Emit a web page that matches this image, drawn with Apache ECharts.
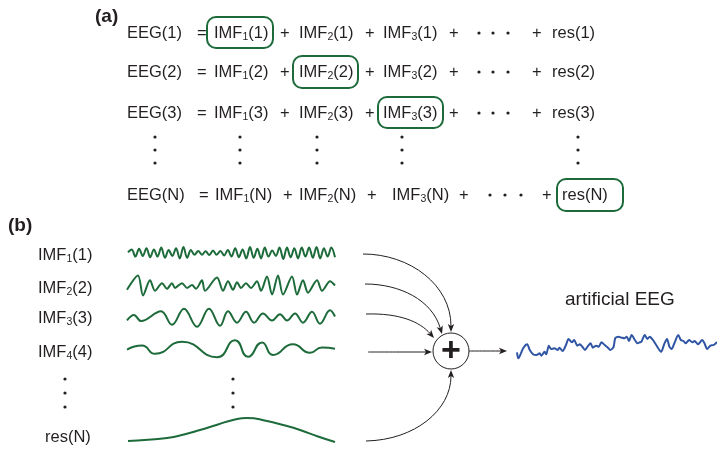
<!DOCTYPE html>
<html><head><meta charset="utf-8">
<script src="https://cdn.jsdelivr.net/npm/echarts@6/dist/echarts.min.js"></script>
<style>html,body{margin:0;padding:0;background:#fff}#c{width:717px;height:449px}</style>
</head><body><div id="c"></div>
<script>
// ---------- data ----------
const rowKeys = ['1', '2', '3', 'N'];            // equation rows in (a)
const bLabels = [['IMF', 1, '1'], ['IMF', 2, '2'], ['IMF', 3, '3'], ['IMF', 4, '4'], ['res', '', 'N']];
const outLabel = 'artificial EEG';

const imf1V = [0.1, 0.6,-0.6, 0.7,-0.5, 0.8,-0.7, 0.6,-0.6, 0.9,-0.8, 0.5,-0.5, 0.8,-0.9, 1.0,-0.8, 0.5,-0.3,
  0.35,-0.3, 0.3,-0.35, 0.4,-0.3, 0.35,-0.4, 0.5,-0.6, 0.8,-0.7, 0.6,-0.9, 1.0,-0.8, 0.7,-0.9, 0.9,-0.6,
  0.4,-0.5, 0.9,-1.0, 0.9,-0.7, 0.8,-0.9, 0.9,-0.6, 0.9,-0.8, 1.0,-0.9, 0.8,-0.6, 0.9,-0.7];

const imf2T = [0, 11, 16, 23, 28, 35, 40, 45, 48, 55, 60, 65, 69, 75, 78, 90, 96, 101, 106, 110, 114, 119, 124,
  130, 134, 140, 145, 151, 156, 165, 170, 176, 181, 190, 195, 203, 208];
const imf2V = [-0.45, 1.05, -1.05, 0.55, -0.55, 0.25, -0.35, 0.25, -0.25, 0.25, -0.25, 0.05, -0.35, 0.55, -0.55,
  0.85, -0.55, 0.45, -0.45, 0.35, -0.25, 0.25, -0.25, 0.45, -0.55, 0.95, -0.95, 1.05, -0.95, 0.95, -0.95,
  0.55, -0.75, 0.55, -0.55, 0.45, 0];

const imf3T = [0, 7, 14, 34, 45, 57, 70, 82, 93, 101, 110, 119, 127, 136, 145, 153, 160, 168, 176, 185, 193, 203, 208];
const imf3V = [-0.3, 0.31, -0.38, 0.72, -0.79, 1.0, -1.0, 1.0, -0.9, 0.72, -0.55, 0.66, -0.55, 0.48, -0.31,
  0.38, -0.31, 0.48, -0.55, 0.66, -0.66, 0.83, 0.14];

const imf4T = [0, 15, 28, 55, 90, 108, 121, 135, 146, 166, 183, 195, 208];
const imf4V = [-0.1, 0.37, -0.6, 0.81, -1.0, 1.0, -0.96, 0.74, -0.74, 0.52, -0.48, 0.15, 0];

const resT = [0, 20, 39, 56, 72, 90, 105, 119, 139, 155, 172, 190, 207];
const resV = [1, 2.2, 4, 7.5, 12, 17.5, 22, 24, 21, 17, 12, 5.5, 0];

const eegT = [0,1.3,6.3,10.3,13,16.3,19.7,23,24.7,28,29.7,32.3,34.7,38,41.3,43,46.3,49.7,52.3,55.7,58,61.3,63.7,
  66.3,69,72.3,74.7,77,80.3,83,85.7,89,92.3,94.7,98,99.7,103,106.3,109,111.3,113.7,116.3,119.7,122.3,124.7,
  126.3,129.7,132.3,134.7,138,141.3,146.3,149.7,152.3,154.7,157,159.7,163.7,166.3,169,171.3,174.7,178,180.3,
  183.7,188,190.3,193,196.3,199.7,203];
const eegV = [-2.3,-8.3,1.7,5.7,0,-4.3,-5,-3.3,-5.7,-1.7,-4.3,4.3,1,1.7,0,2.3,-1,5,11,7.7,10,4.3,5.7,3.3,0,4.3,
  6.7,2.3,4.3,3.3,7.7,5,2.3,0,3,11.7,13.3,12.3,11.7,13.3,9,15,10,6.7,7.7,8.3,15,11,13.3,10,5,-1.7,6.7,11,3.3,
  1,6.7,15,10,9,6.7,10,7.7,9,5.7,10,6.7,1,4.3,5,8];

// ---------- styling / layout ----------
const GREEN = '#1d6b3a', BLUE = '#2f55a4', INK = '#231f20';
const FONT = '"Liberation Sans", Arial, Helvetica, sans-serif';
const RICH = {
  m: {fontSize: 16.5, lineHeight: 20, fontFamily: FONT, fill: INK},
  s: {fontSize: 10.5, lineHeight: 10, verticalAlign: 'bottom', fontFamily: FONT, fill: INK}
};
function txt(x, y, s) {
  return {type: 'text', x: x, y: y, silent: true,
    style: {text: s, rich: RICH, fill: INK, fontFamily: FONT, fontSize: 16.5, verticalAlign: 'middle', align: 'left'}};
}
const imfT = (n, k) => `{m|IMF}{s|${n}}{m|(${k})}`;
const plain = s => `{m|${s}}`;
function dot(x, y) { return {type: 'circle', silent: true, shape: {cx: x, cy: y, r: 1.6}, style: {fill: INK}}; }
function box(x1, y1, x2, y2) {
  return {type: 'rect', silent: true, shape: {x: x1, y: y1, width: x2 - x1, height: y2 - y1, r: 9},
    style: {fill: null, stroke: GREEN, lineWidth: 2}};
}
function arrow(p0, c1, c2, p3) {
  const dx = p3[0] - c2[0], dy = p3[1] - c2[1], L = Math.hypot(dx, dy), ux = dx / L, uy = dy / L;
  const len = 8, hw = 3.2;
  const bx = p3[0] - ux * len, by = p3[1] - uy * len;
  const nx = p3[0] - ux * (len - 2), ny = p3[1] - uy * (len - 2);
  return [
    {type: 'bezierCurve', silent: true, shape: {x1: p0[0], y1: p0[1], cpx1: c1[0], cpy1: c1[1], cpx2: c2[0], cpy2: c2[1], x2: nx, y2: ny},
      style: {stroke: INK, lineWidth: 1, fill: null}},
    {type: 'polygon', silent: true, shape: {points: [[p3[0], p3[1]], [bx - uy * hw, by + ux * hw], [nx, ny], [bx + uy * hw, by - ux * hw]]},
      style: {fill: INK}}
  ];
}

const rowY = [33, 72, 113, 195];
const xStd = {eeg: 127, eq: 197, i1: 214, p1: 280, i2: 299, p2: 365, i3: 383, p3: 449, d: [479, 493, 508], p4: 532, res: 552};
const xN = {eeg: 127, eq: 199, i1: 215, p1: 283, i2: 299, p2: 367, i3: 392, p3: 459, d: [490, 505, 521], p4: 542, res: 562};
const boxes = [[207, 17, 273, 48], [293, 56, 358, 88], [378, 97, 443, 128], [557, 179, 623, 211]];

const G = [];
G.push({type: 'text', x: 95, y: 17, silent: true, style: {text: '(a)', fontFamily: FONT, fontSize: 19, fontWeight: 'bold', fill: INK, verticalAlign: 'middle'}});
G.push({type: 'text', x: 8, y: 226, silent: true, style: {text: '(b)', fontFamily: FONT, fontSize: 19, fontWeight: 'bold', fill: INK, verticalAlign: 'middle'}});

rowKeys.forEach((k, i) => {
  const X = k === 'N' ? xN : xStd, y = rowY[i];
  G.push(txt(X.eeg, y, plain(`EEG(${k})`)));
  G.push(txt(X.eq, y, plain('=')));
  G.push(txt(X.i1, y, imfT(1, k)));
  G.push(txt(X.p1, y, plain('+')));
  G.push(txt(X.i2, y, imfT(2, k)));
  G.push(txt(X.p2, y, plain('+')));
  G.push(txt(X.i3, y, imfT(3, k)));
  G.push(txt(X.p3, y, plain('+')));
  X.d.forEach(dx => G.push(dot(dx, y)));
  G.push(txt(X.p4, y, plain('+')));
  G.push(txt(X.res, y, plain(`res(${k})`)));
  const b = boxes[i];
  G.push(box(b[0], b[1], b[2], b[3]));
});
[155, 240, 317, 402, 578].forEach(x => [137, 150, 163].forEach(y => G.push(dot(x, y))));

// (b) labels
const bY = [255, 288, 318, 352, 437];
bLabels.forEach((l, i) => {
  const s = l[0] === 'IMF' ? imfT(l[1], l[2]) : plain(`res(${l[2]})`);
  G.push(txt(l[0] === 'IMF' ? 38 : 45, bY[i], s));
});
[65, 233].forEach(x => [379, 393, 407].forEach(y => G.push(dot(x, y))));

// arrows into summing node
G.push(...arrow([363, 254], [410, 254], [451, 285], [451, 332]));
G.push(...arrow([365, 284], [400, 284], [432, 300], [442, 334]));
G.push(...arrow([366, 314], [400, 313], [420, 322], [434, 338]));
G.push(...arrow([368, 352], [368, 352], [368, 352], [432, 352]));
G.push(...arrow([366, 441], [415, 440], [451, 410], [451, 370]));
G.push(...arrow([469, 351], [469, 351], [469, 351], [507, 351]));
G.push({type: 'circle', silent: true, shape: {cx: 451, cy: 351, r: 18}, style: {fill: '#fff', stroke: INK, lineWidth: 1}});
G.push({type: 'text', x: 451, y: 352, silent: true, style: {text: '+', fontFamily: FONT, fontSize: 34, fontWeight: 'bold', fill: INK, align: 'center', verticalAlign: 'middle'}});
G.push({type: 'text', x: 565, y: 300, silent: true, style: {text: outLabel, fontFamily: FONT, fontSize: 19, fill: INK, verticalAlign: 'middle'}});

// ---------- charts ----------
const zip = (t, v) => t.map((x, i) => [x, v[i]]);
const grids = [
  {left: 128, top: 247, width: 207, height: 12},
  {left: 127, top: 276, width: 208, height: 19},
  {left: 127, top: 308.7, width: 208, height: 18},
  {left: 127, top: 340.2, width: 208, height: 17},
  {left: 128, top: 418, width: 207, height: 24},
  {left: 517, top: 330, width: 203, height: 30}
];
const xAxes = [
  {gridIndex: 0, type: 'category', boundaryGap: false, data: imf1V.map((_, i) => i), show: false},
  {gridIndex: 1, type: 'value', min: 0, max: 208, show: false},
  {gridIndex: 2, type: 'value', min: 0, max: 208, show: false},
  {gridIndex: 3, type: 'value', min: 0, max: 208, show: false},
  {gridIndex: 4, type: 'value', min: 0, max: 207, show: false},
  {gridIndex: 5, type: 'value', min: 0, max: 203, show: false}
];
const yAxes = [
  {gridIndex: 0, min: -1, max: 1}, {gridIndex: 1, min: -1, max: 1}, {gridIndex: 2, min: -1, max: 1},
  {gridIndex: 3, min: -1, max: 1}, {gridIndex: 4, min: 0, max: 24}, {gridIndex: 5, min: -10, max: 20}
].map(a => Object.assign({type: 'value', show: false, splitLine: {show: false}}, a));
const datasets = [imf1V, zip(imf2T, imf2V), zip(imf3T, imf3V), zip(imf4T, imf4V), zip(resT, resV), zip(eegT, eegV)];
const smooths = [0.35, 0.3, 0.4, 0.55, 0.55, 0.25];
const series = datasets.map((d, i) => ({
  type: 'line', xAxisIndex: i, yAxisIndex: i, data: d, showSymbol: false, clip: false, silent: true,
  smooth: smooths[i],
  lineStyle: {color: i === 5 ? BLUE : GREEN, width: 2}
}));

const chart = echarts.init(document.getElementById('c'), null, {renderer: 'canvas'});
chart.setOption({
  animation: false,
  backgroundColor: '#fff',
  grid: grids, xAxis: xAxes, yAxis: yAxes, series: series,
  graphic: {elements: G}
});
</script></body></html>
